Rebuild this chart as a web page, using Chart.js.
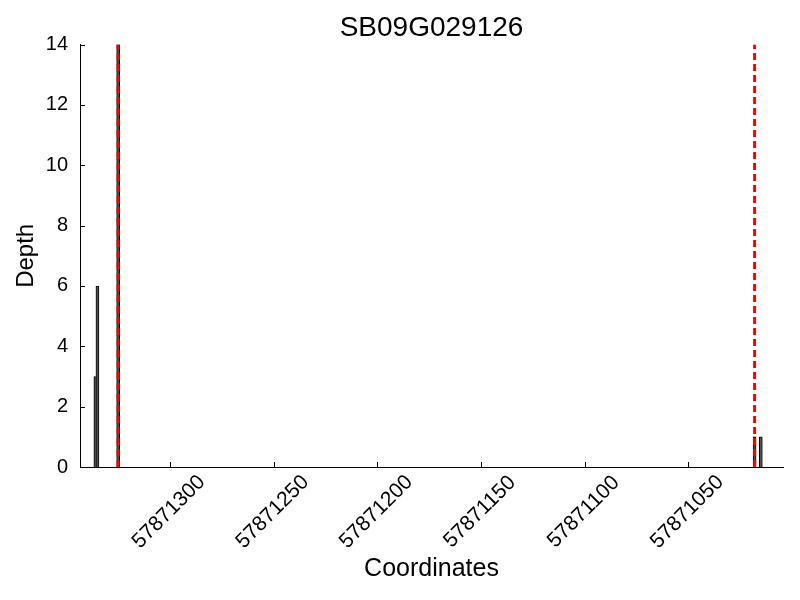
<!DOCTYPE html>
<html>
<head>
<meta charset="utf-8">
<title>SB09G029126</title>
<script src="https://cdn.jsdelivr.net/npm/chart.js@4.4.1/dist/chart.umd.min.js"></script>
<style>
  html, body { margin: 0; padding: 0; background: #fff; }
</style>
</head>
<body>
<canvas id="depthChart" width="800" height="600"></canvas>
<script>
const positions = [57871336, 57871335, 57871325, 57871018, 57871015]
const depths = [3, 6, 14, 1, 1]
const markerPositions = [57871325, 57871018]
const xTicks = [57871300, 57871250, 57871200, 57871150, 57871100, 57871050]
const yTicks = [0, 2, 4, 6, 8, 10, 12, 14]
const xMin = 57871004.3
const xMax = 57871343.4
const yMax = 14

const fontFamily = '"Liberation Sans", Arial, Helvetica, sans-serif'
Chart.defaults.font.family = fontFamily
Chart.defaults.color = '#000'

const barData = positions.map(( p, i ) => ({ x: p, y: depths[i] }))

const markerSets = markerPositions.map(p => ({
  type: 'line',
  data: [{ x: p, y: 0 }, { x: p, y: yMax }],
  borderColor: '#ff0000',
  borderWidth: 3,
  borderDash: [7, 4],
  pointRadius: 0,
  fill: false,
  order: 0
}))

// matplotlib style ticks pointing inside + rotated, centred x labels
const inwardTicks = {
  id: 'inwardTicks',
  afterDraw( chart ) {
    const { ctx, chartArea, scales } = chart
    ctx.save()
    ctx.strokeStyle = '#000'
    ctx.lineWidth = 1
    xTicks.forEach(v => {
      const px = Math.round(scales.x.getPixelForValue(v)) + 0.5
      ctx.beginPath()
      ctx.moveTo(px, chartArea.bottom)
      ctx.lineTo(px, chartArea.bottom - 5)
      ctx.stroke()
    })
    yTicks.forEach(v => {
      const py = Math.round(scales.y.getPixelForValue(v)) + 0.5
      ctx.beginPath()
      ctx.moveTo(chartArea.left, py)
      ctx.lineTo(chartArea.left + 5, py)
      ctx.stroke()
    })
    ctx.fillStyle = '#000'
    ctx.font = '21px ' + fontFamily
    ctx.textAlign = 'center'
    ctx.textBaseline = 'middle'
    xTicks.forEach(v => {
      const px = scales.x.getPixelForValue(v)
      ctx.save()
      ctx.translate(px - 1, chartArea.bottom + 45)
      ctx.rotate(-Math.PI / 4)
      ctx.fillText(String(v), 0, 0)
      ctx.restore()
    })
    ctx.restore()
  }
}

const depthChart = new Chart(document.getElementById('depthChart'), {
  type: 'bar',
  data: {
    datasets: [
      ...markerSets,
      {
        type: 'bar',
        data: barData,
        backgroundColor: '#555',
        borderColor: '#000',
        borderWidth: 1,
        barThickness: 3,
        grouped: false,
        order: 1
      }
    ]
  },
  options: {
    responsive: false,
    animation: false,
    layout: { padding: { left: 0, right: 17, top: 0, bottom: 0 } },
    plugins: {
      legend: { display: false },
      tooltip: { enabled: false },
      title: {
        display: true,
        fullSize: false,
        text: 'SB09G029126',
        font: { size: 28, weight: 'normal' },
        padding: { top: 11, bottom: 0 }
      }
    },
    scales: {
      x: {
        type: 'linear',
        reverse: true,
        offset: false,
        min: xMin,
        max: xMax,
        afterBuildTicks: scale => { scale.ticks = xTicks.map(v => ({ value: v })) },
        afterFit: scale => { scale.height = 133 },
        grid: { display: false, drawTicks: false, offset: false },
        border: { display: true, color: '#000', width: 1 },
        ticks: { display: false },
        title: {
          display: true,
          text: 'Coordinates',
          font: { size: 25 },
          padding: { top: 0, bottom: 16 }
        }
      },
      y: {
        min: 0,
        max: yMax,
        afterBuildTicks: scale => { scale.ticks = yTicks.map(v => ({ value: v })) },
        afterFit: scale => { scale.width = 80 },
        grid: { display: false, drawTicks: false },
        border: { display: true, color: '#000', width: 1 },
        ticks: { padding: 12, font: { size: 20 } },
        title: {
          display: true,
          text: 'Depth',
          font: { size: 24 },
          padding: { top: 12, bottom: 0 }
        }
      }
    }
  },
  plugins: [inwardTicks]
})
</script>
</body>
</html>
